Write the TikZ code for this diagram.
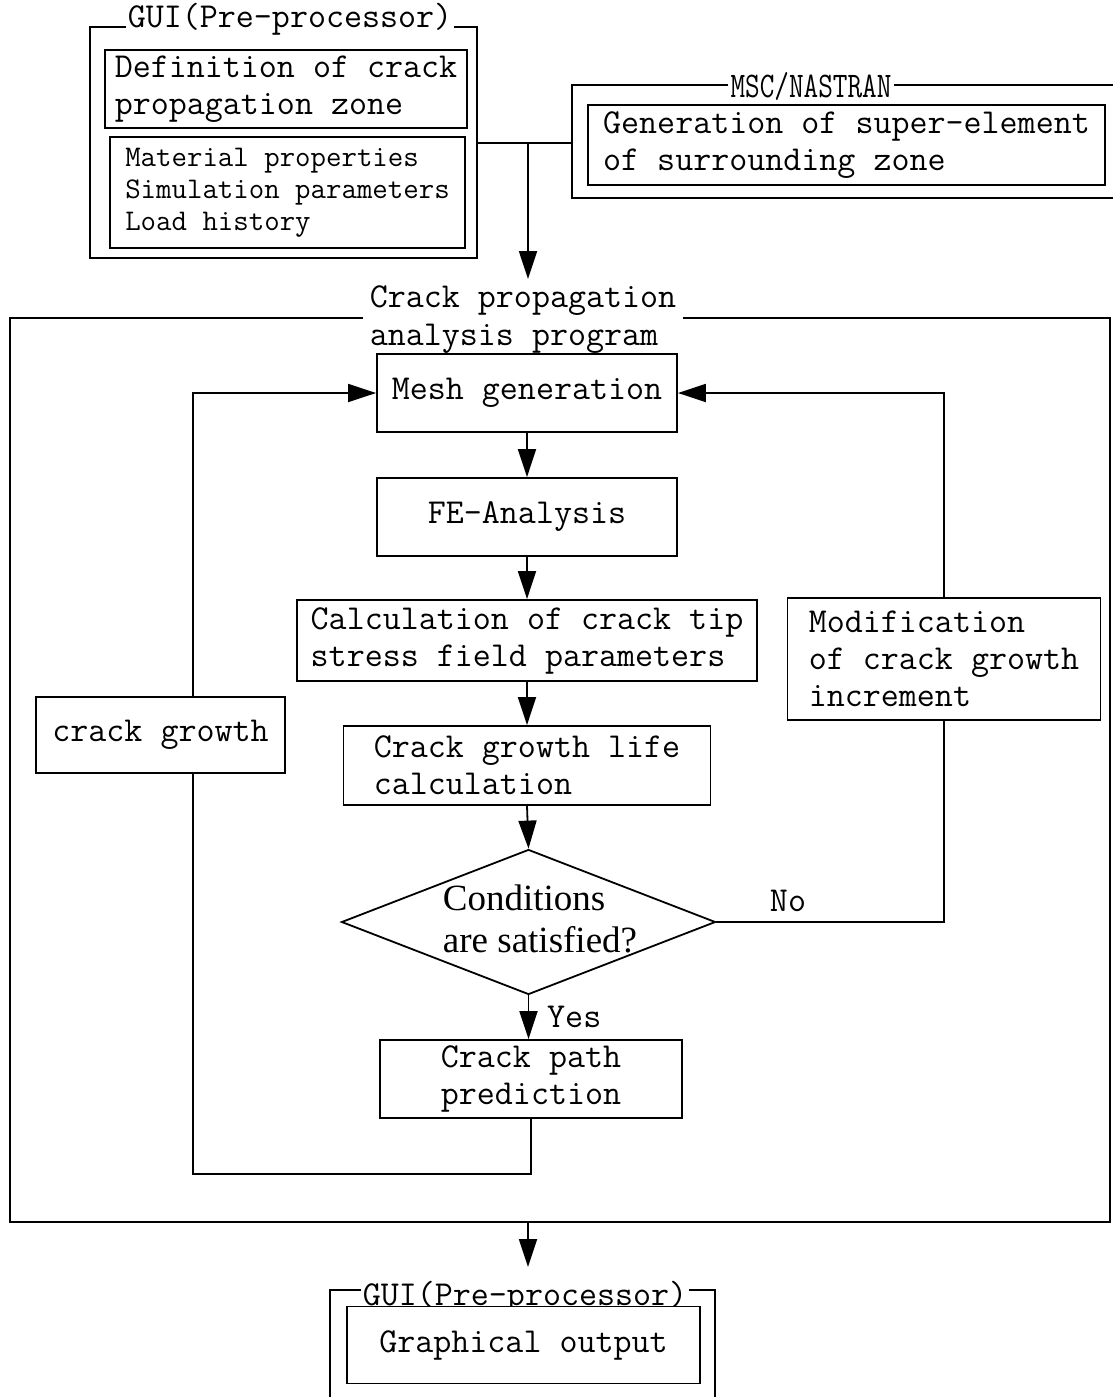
\documentclass[tikz,border=0pt]{standalone}
\usepackage{fontspec}
\newfontfamily\timesf{Liberation Serif}
\usetikzlibrary{shapes.geometric,arrows.meta}
\newcommand\mtxt{\fontsize{35}{37}\selectfont\ttfamily}
\newcommand\stxt{\fontsize{30}{32}\selectfont\ttfamily}
\newcommand\ltxt{\fontsize{35}{38}\selectfont\ttfamily}
\begin{document}
\begin{tikzpicture}[x=1pt,y=-1pt,
  box/.style={draw, line width=1.8pt, fill=white, inner sep=0pt, font=\mtxt},
  frame/.style={line width=1.8pt},
  conn/.style={line width=1.8pt},
  arr/.style={conn, -{Triangle[length=28pt,width=18pt]}},
  lab/.style={font=\mtxt, inner sep=2pt}]
\useasboundingbox (0,0) rectangle (1113,1397);
\fill[white] (0,0) rectangle (1113,1397);
\clip (0,0) rectangle (1113,1397);

% ---- top GUI frame
\coordinate (gtl) at (90,27);
\node[lab, anchor=base] (guilab) at (290,28) {GUI(Pre-processor)};
\draw[frame] (guilab.west |- gtl) -- (gtl) -- (90,258) -- (477,258) -- (477,27) -- (guilab.east |- gtl);
\node[box, minimum width=362pt, minimum height=78pt, align=left] (def) at (286,89) {Definition of crack\\propagation zone};
\node[box, font=\stxt, minimum width=355pt, minimum height=111pt, align=left] (mat) at (287.5,192.5) {Material properties\\Simulation parameters\\Load history};

% ---- MSC/NASTRAN frame
\coordinate (mtl) at (572,85);
\node[font=\fontsize{28.4}{30}\selectfont\ttfamily, inner sep=2pt] (msclab) at (811,86) {\scalebox{1}[1.27]{MSC/NASTRAN}};
\draw[frame] (msclab.west |- mtl) -- (mtl) -- (572,198) -- (1130,198);
\draw[frame] (msclab.east |- mtl) -- (1130,85);
\node[box, minimum width=517pt, minimum height=80pt, align=left] (gen) at (846.5,145) {Generation of super-element\\of surrounding zone};

% ---- connector to analysis program
\coordinate (guiR) at (477,143);
\coordinate (mscL) at (572,143);
\coordinate (jn) at (528,143);
\coordinate (mainin) at (528,279);
\draw[conn] (guiR) -- (mscL);
\draw[arr] (jn) -- (mainin);

% ---- main frame
\coordinate (mtop) at (10,318);
\node[font=\ltxt, align=left, inner sep=7pt] (mainlab) at (523,320) {Crack propagation\\analysis program};
\draw[frame] (mainlab.west |- mtop) -- (mtop) -- (10,1222) -- (1110,1222) -- (1110,318) -- (mainlab.east |- mtop);

% ---- flow boxes
\node[box, minimum width=300pt, minimum height=78pt] (mesh) at (527,393) {Mesh generation};
\node[box, minimum width=300pt, minimum height=78pt] (fe) at (527,517) {FE-Analysis};
\node[box, minimum width=460pt, minimum height=81pt, align=left] (calc) at (527,640.5) {Calculation of crack tip\\stress field parameters};
\node[box, minimum width=367pt, minimum height=79pt, align=left] (life) at (527,765.5) {Crack growth life\\calculation};
\node[draw, line width=1.8pt, diamond, inner sep=0pt, minimum width=374pt, minimum height=145pt] (dia) at (528.5,922) {};
\node[font=\timesf\fontsize{37}{42}\selectfont, align=left, inner sep=0pt] (dtext) at (540,919) {Conditions\\are satisfied?};
\node[box, minimum width=302pt, minimum height=78pt, align=center] (path) at (531,1079) {Crack path\\prediction};
\node[box, minimum width=249pt, minimum height=76pt] (grow) at (160.5,735) {crack growth};
\node[box, minimum width=313pt, minimum height=122pt, align=left] (mod) at (944,659) {Modification\\of crack growth\\increment};

\draw[arr] (mesh) -- (fe);
\draw[arr] (fe) -- (calc);
\draw[arr] (calc) -- (life);
\draw[arr] (life.south) -- (dia.north);
\draw[arr] (dia.south) -- (dia.south |- path.north);
\node[font=\mtxt, inner sep=0pt, anchor=west] (yes) at (547,1017) {Yes};

% loop: crack growth
\coordinate (lx) at (193,1174);
\draw[conn] (path.south) |- (lx) -- (lx |- grow.south);
\draw[arr] (lx |- grow.north) |- (mesh.west);

% loop: No
\draw[conn] (dia.east) -| (mod.south);
\draw[arr] (mod.north) |- (mesh.east);
\node[font=\mtxt, inner sep=0pt] (no) at (788,901) {No};

% ---- output
\coordinate (mainout) at (528,1222);
\coordinate (guiin) at (528,1267);
\draw[arr] (mainout) -- (guiin);
\coordinate (btl) at (330,1290);
\node[lab, anchor=base] (blab) at (525,1305) {GUI(Pre-processor)};
\draw[frame] (blab.west |- btl) -- (btl) -- (330,1430);
\draw[frame] (blab.east |- btl) -- (715,1290) -- (715,1430);
\node[box, minimum width=353pt, minimum height=77pt] (graph) at (523.5,1345) {Graphical output};
\end{tikzpicture}
\end{document}
